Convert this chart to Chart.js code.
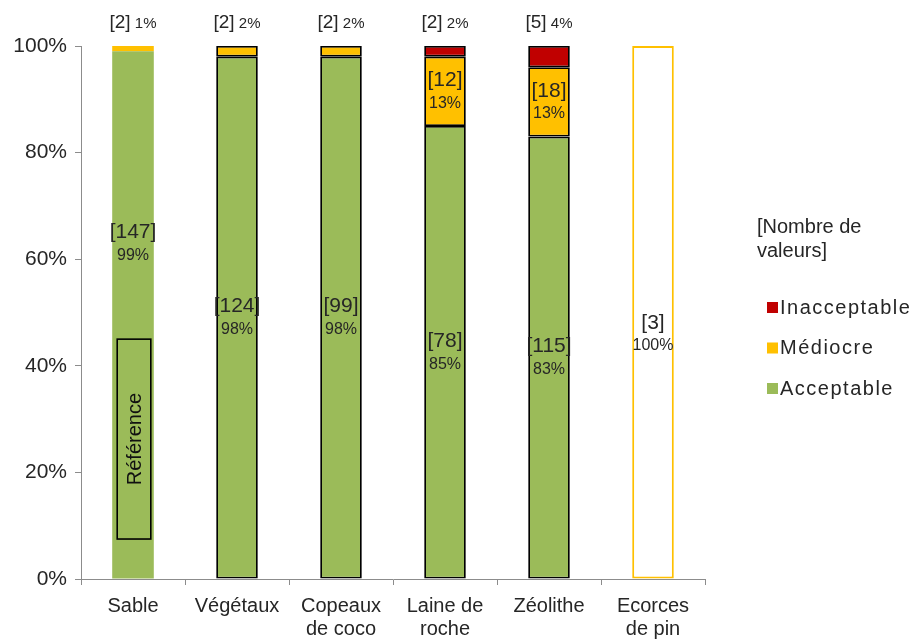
<!DOCTYPE html>
<html lang="fr">
<head>
<meta charset="utf-8">
<title>Qualité des valeurs par substrat</title>
<script src="https://cdn.jsdelivr.net/npm/chart.js@4.4.1/dist/chart.umd.min.js"></script>
<style>
  html, body { margin: 0; padding: 0; background: #fff; }
  #wrap { width: 920px; height: 642px; }
</style>
</head>
<body>
<div id="wrap"><canvas id="chart"></canvas></div>
<script>
const categories = ["Sable", "Végétaux", ["Copeaux", "de coco"], ["Laine de", "roche"], "Zéolithe", ["Ecorces", "de pin"]];

// nombre de valeurs par classe
const countAcceptable = [147, 124, 99, 78, 115, 3];
const countMediocre = [2, 2, 2, 12, 18, 0];
const countInacceptable = [0, 0, 0, 2, 5, 0];

// parts (%) telles qu'affichées sur les barres
const pctAcceptable = [99, 98, 98, 85, 83, 100];
const pctMediocre = [1, 2, 2, 13, 13, 0];
const pctInacceptable = [0, 0, 0, 2, 4, 0];

const yTicks = [0, 20, 40, 60, 80, 100];

// cadre "Référence" posé sur la barre Sable (bornes en %)
const referenceSpan = [7.5, 45];

const FONT = "'Liberation Sans', Arial, sans-serif";
const TXT = '#262626';
const AXIS = '#8c8c8c';
const GREEN = '#9BBB59', ORANGE = '#FFC000', RED = '#C00000';
const SABLE = 0, ECORCES = 5;

const segBorder = ctx => {
  if (!ctx.raw || ctx.dataIndex === SABLE) return 0;
  return ctx.dataIndex === ECORCES ? 2 : 1.8;
};

// étiquettes [n] + % dans ou au-dessus des segments
const valueLabels = {
  id: 'valueLabels',
  afterDatasetsDraw(chart, args, opts) {
    const { ctx, chartArea } = chart;
    const ys = chart.scales.y;
    chart.data.datasets.forEach((ds, di) => {
      chart.getDatasetMeta(di).data.forEach((bar, i) => {
        const pct = ds.data[i];
        if (!pct) return;
        const n = ds.counts[i];
        ctx.save();
        ctx.fillStyle = TXT;
        ctx.textBaseline = 'middle';
        if (pct < 10) {
          const a = '[' + n + ']', b = ' ' + pct + '%';
          ctx.font = '19px ' + FONT;
          const wa = ctx.measureText(a).width;
          ctx.font = '15px ' + FONT;
          const wb = ctx.measureText(b).width;
          const x0 = bar.x - (wa + wb) / 2;
          const ty = chartArea.top - 23;
          ctx.textAlign = 'left';
          ctx.font = '19px ' + FONT;
          ctx.fillText(a, x0, ty);
          ctx.font = '15px ' + FONT;
          ctx.fillText(b, x0 + wa, ty + 1);
        } else {
          let cy = (bar.y + bar.base) / 2;
          if (opts.anchors && opts.anchors[i] != null) cy = ys.getPixelForValue(opts.anchors[i]);
          ctx.textAlign = 'center';
          ctx.font = '21px ' + FONT;
          ctx.fillText('[' + n + ']', bar.x, cy - 11);
          ctx.font = '16px ' + FONT;
          ctx.fillText(pct + '%', bar.x, cy + 12);
        }
        ctx.restore();
      });
    });
  }
};

// cadre vertical "Référence"
const referenceBox = {
  id: 'referenceBox',
  afterDatasetsDraw(chart) {
    const { ctx } = chart;
    const ys = chart.scales.y;
    const bar = chart.getDatasetMeta(0).data[SABLE];
    const left = bar.x - bar.width / 2 + 5, right = bar.x + bar.width / 2 - 3;
    const top = ys.getPixelForValue(referenceSpan[1]);
    const bottom = ys.getPixelForValue(referenceSpan[0]);
    ctx.save();
    ctx.strokeStyle = '#000';
    ctx.lineWidth = 1.6;
    ctx.strokeRect(left, top, right - left, bottom - top);
    ctx.translate((left + right) / 2, (top + bottom) / 2);
    ctx.rotate(-Math.PI / 2);
    ctx.fillStyle = '#111';
    ctx.font = '20px ' + FONT;
    ctx.textAlign = 'center';
    ctx.textBaseline = 'middle';
    ctx.fillText('Référence', 0, 1);
    ctx.restore();
  }
};

// légende à droite, titre sur deux lignes, ordre inversé
const sideLegend = {
  id: 'sideLegend',
  afterDraw(chart) {
    const { ctx } = chart;
    const x = chart.chartArea.right + 52;
    ctx.save();
    ctx.fillStyle = TXT;
    ctx.textBaseline = 'middle';
    ctx.textAlign = 'left';
    ctx.font = '20px ' + FONT;
    ctx.fillText('[Nombre de', x, 227);
    ctx.fillText('valeurs]', x, 251);
    const items = chart.data.datasets.slice().reverse();
    items.forEach((ds, k) => {
      const cy = 307 + k * 40.5;
      ctx.fillStyle = ds.legendColor;
      ctx.fillRect(x + 10, cy - 5, 11, 11);
      ctx.fillStyle = TXT;
      ctx.letterSpacing = '1.5px';
      ctx.fillText(ds.label, x + 23, cy + 1);
      ctx.letterSpacing = '0px';
    });
    ctx.restore();
  }
};

new Chart(document.getElementById('chart'), {
  type: 'bar',
  data: {
    labels: categories,
    datasets: [
      {
        label: 'Acceptable',
        data: pctAcceptable,
        counts: countAcceptable,
        legendColor: GREEN,
        backgroundColor: ctx => ctx.dataIndex === ECORCES ? '#ffffff' : GREEN,
        borderColor: ctx => ctx.dataIndex === ECORCES ? ORANGE : '#000',
        borderWidth: segBorder,
        borderSkipped: false
      },
      {
        label: 'Médiocre',
        data: pctMediocre,
        counts: countMediocre,
        legendColor: ORANGE,
        backgroundColor: ORANGE,
        borderColor: '#000',
        borderWidth: segBorder,
        borderSkipped: false
      },
      {
        label: 'Inacceptable',
        data: pctInacceptable,
        counts: countInacceptable,
        legendColor: RED,
        backgroundColor: RED,
        borderColor: '#000',
        borderWidth: segBorder,
        borderSkipped: false
      }
    ]
  },
  options: {
    responsive: true,
    maintainAspectRatio: false,
    animation: false,
    layout: { padding: { top: 46, right: 215, bottom: 0, left: 0 } },
    datasets: { bar: { categoryPercentage: 1, barPercentage: 0.4 } },
    plugins: {
      legend: { display: false },
      tooltip: { enabled: false },
      valueLabels: { anchors: { 0: 63, 5: 46 } }
    },
    scales: {
      x: {
        stacked: true,
        grid: { drawOnChartArea: false, drawTicks: true, tickLength: 6, offset: true, color: AXIS },
        border: { color: AXIS, width: 1 },
        ticks: { font: { family: FONT, size: 20, lineHeight: 1.15 }, color: TXT, padding: 10, maxRotation: 0, autoSkip: false },
        afterFit: s => { s.height = 63; }
      },
      y: {
        stacked: true,
        min: 0,
        max: 100,
        afterBuildTicks: s => { s.ticks = yTicks.map(v => ({ value: v })); },
        grid: { drawOnChartArea: false, drawTicks: true, tickLength: 6, color: AXIS },
        border: { color: AXIS, width: 1 },
        ticks: { font: { family: FONT, size: 21 }, color: TXT, padding: 8, callback: v => v + '%' },
        afterFit: s => { s.width = 81; }
      }
    }
  },
  plugins: [valueLabels, referenceBox, sideLegend]
});
</script>
</body>
</html>
